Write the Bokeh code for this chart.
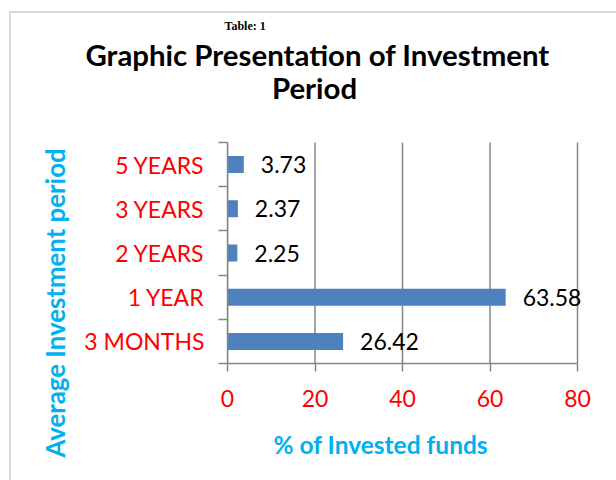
from bokeh.plotting import figure
from bokeh.models import FixedTicker, LabelSet, Label, ColumnDataSource, Title
from bokeh.core.properties import value
from bokeh.embed import file_html
from bokeh.resources import INLINE

# ---- data ----
categories = ["3 MONTHS", "1 YEAR", "2 YEARS", "3 YEARS", "5 YEARS"]
values = [26.42, 63.58, 2.25, 2.37, 3.73]
value_labels = ["26.42", "63.58", "2.25", "2.37", "3.73"]
x_ticks = [0, 20, 40, 60, 80]

caption = "Table: 1"
title_lines = ["Graphic Presentation of Investment", "Period"]
x_title = "% of Invested funds"
y_title = "Average Investment period"

# ---- style / layout ----
FONT = "Lato"
BAR = "#4F81BD"
GRID = "#868686"
BLUE = "#00B0F0"
RED = "#FF0000"
FRAME_LINE = "#D9D9D9"

W, H = 616, 480
X_MAX = 80
N = len(categories)
# pixel layout of the chart area
PX_LEFT, PX_X80, PX_RIGHT = 227, 577, 595
PX_TOP_CAT, PX_BOTTOM, PX_FRAME_TOP = 142, 363, 74

x_end = X_MAX * (PX_RIGHT - PX_LEFT) / (PX_X80 - PX_LEFT)
y_end = N * (PX_BOTTOM - PX_FRAME_TOP) / (PX_BOTTOM - PX_TOP_CAT)

p = figure(width=W, height=H, x_range=(0, x_end), y_range=(0, y_end),
           output_backend="svg", toolbar_location=None,
           min_border_left=PX_LEFT, min_border_right=W - PX_RIGHT,
           min_border_top=PX_FRAME_TOP, min_border_bottom=H - PX_BOTTOM)
p.outline_line_color = None
p.background_fill_color = "white"
p.border_fill_color = None
p.styles = {
    "background": (f"linear-gradient({FRAME_LINE},{FRAME_LINE}) 9px 11px / 2px 100% no-repeat, "
                   f"linear-gradient({FRAME_LINE},{FRAME_LINE}) 9px 11px / 100% 2px no-repeat, white")
}
p.xgrid.visible = False
p.ygrid.visible = False

ypos = [i + 0.5 for i in range(N)]
src = ColumnDataSource(dict(y=ypos, v=values, lab=value_labels))

# vertical grid lines at the x ticks, spanning the category band only
p.segment(x0=x_ticks, y0=[0] * len(x_ticks), x1=x_ticks, y1=[N] * len(x_ticks),
          line_color=GRID, line_width=1.5)

p.hbar(y="y", right="v", left=0, height=0.385, source=src,
       fill_color=BAR, line_color=None)

# x axis
xa = p.xaxis[0]
xa.ticker = FixedTicker(ticks=x_ticks)
xa.bounds = (0, X_MAX)
xa.axis_line_color = GRID
xa.axis_line_width = 1.5
xa.major_tick_line_color = GRID
xa.major_tick_line_width = 1.5
xa.major_tick_out = 8
xa.major_tick_in = 0
xa.minor_tick_line_color = None
xa.major_label_text_color = RED
xa.major_label_text_font = FONT
xa.major_label_text_font_size = "23px"
xa.major_label_standoff = 18

# y axis: labels at category centres, ticks at category boundaries
ya = p.yaxis[0]
ya.ticker = FixedTicker(ticks=ypos, minor_ticks=list(range(N + 1)))
ya.bounds = (0, N)
ya.major_label_overrides = {y: c for y, c in zip(ypos, categories)}
ya.axis_line_color = GRID
ya.axis_line_width = 1.5
ya.major_tick_line_color = None
ya.major_tick_out = 0
ya.major_tick_in = 0
ya.minor_tick_line_color = GRID
ya.minor_tick_line_width = 1.5
ya.minor_tick_out = 9
ya.minor_tick_in = 0
ya.major_label_text_color = RED
ya.major_label_text_font = FONT
ya.major_label_text_font_size = "23px"
ya.major_label_standoff = 14

# value labels
p.add_layout(LabelSet(x="v", y="y", text="lab", source=src, x_offset=17,
                      text_baseline="middle", text_font=value(FONT),
                      text_font_size=value("23px"), text_color="black"))

# title: first line in the top panel, second line inside the (extended) frame
p.add_layout(Title(text=title_lines[0], align="left", offset=85 - PX_LEFT, standoff=5,
                   text_font=FONT, text_font_style="bold", text_font_size="29.4px",
                   text_color="black"), "above")
p.add_layout(Title(text=caption, align="left", offset=224 - PX_LEFT, standoff=0,
                   text_font="Liberation Serif", text_font_style="bold",
                   text_font_size="12px", text_color="black"), "above")
p.add_layout(Label(x=314 - PX_LEFT, y=PX_BOTTOM - 87, x_units="screen", y_units="screen",
                   text=title_lines[1], text_align="center", text_baseline="alphabetic",
                   text_font=FONT, text_font_style="bold", text_font_size="29.4px",
                   text_color="black"))

# axis titles
p.add_layout(Title(text=x_title, align="left", offset=273 - PX_LEFT, standoff=37,
                   text_font=FONT, text_font_style="bold", text_font_size="24.5px",
                   text_color=BLUE), "below")
p.add_layout(Title(text=y_title, align="left", offset=PX_BOTTOM - 457, standoff=24,
                   text_font=FONT, text_font_style="bold", text_font_size="25.8px",
                   text_color=BLUE), "left")

open("out.html", "w").write(file_html(p, INLINE))
